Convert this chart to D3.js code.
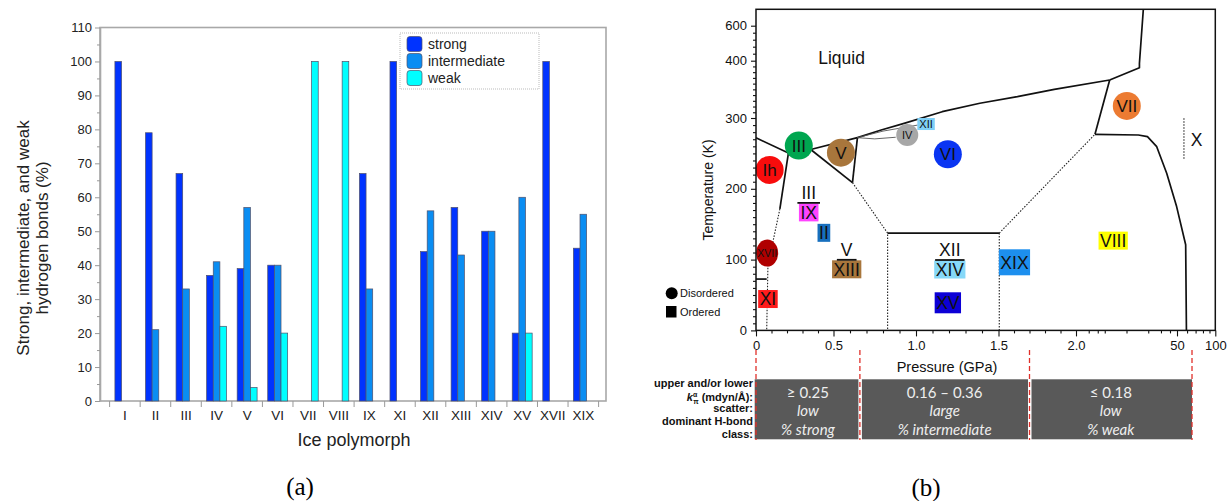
<!DOCTYPE html>
<html>
<head>
<meta charset="utf-8">
<script src="https://cdn.jsdelivr.net/npm/d3@7"></script>
<style>
  body { margin: 0; background: #fff; }
  svg text { font-family: "Liberation Sans", Arial, sans-serif; }
</style>
</head>
<body>
<svg id="fig" width="1228" height="501"></svg>
<script>
// ---- panel (a) data: share of H-bond classes per ice polymorph (%)
const polymorphs = ["I", "II", "III", "IV", "V", "VI", "VII", "VIII", "IX", "XI", "XII", "XIII", "XIV", "XV", "XVII", "XIX"];
const strong =       [100, 79, 67, 37, 39, 40,   0,   0, 67, 100, 44, 57, 50, 20, 100, 45];
const intermediate = [  0, 21, 33, 41, 57, 40,   0,   0, 33,   0, 56, 43, 50, 60,   0, 55];
const weak =         [  0,  0,  0, 22,  4, 20, 100, 100,  0,   0,  0,  0,  0, 20,   0,  0];
const bondClasses = ["strong", "intermediate", "weak"];
const pctTicks = [0, 10, 20, 30, 40, 50, 60, 70, 80, 90, 100, 110];
const pctMinor = [5, 15, 25, 35, 45, 55, 65, 75, 85, 95, 105];

// ---- panel (b) data: phase diagram (pressure GPa, temperature K)
const tempTicks = [0, 100, 200, 300, 400, 600];
const tempMinor = [10, 20, 30, 40, 50, 60, 70, 80, 90, 110, 120, 130, 140, 150, 160, 170, 180, 190,
  210, 220, 230, 240, 250, 260, 270, 280, 290, 310, 320, 330, 340, 350, 360, 370, 380, 390, 440, 480, 520, 560];
const pressLinTicks = [0, 0.5, 1.0, 1.5, 2.0];
const pressLogTicks = [50, 100];
const pressLinMinor = [0.1, 0.2, 0.3, 0.4, 0.6, 0.7, 0.8, 0.9, 1.1, 1.2, 1.3, 1.4, 1.6, 1.7, 1.8, 1.9];
const pressLogMinor = [3, 4, 5, 10, 20, 30, 40, 60, 70, 80, 90];

const solidBoundaries = [
  [[0, 272], [0.209, 250.5]],
  [[0.209, 250.5], [0.154, 171.6]],
  [[0.209, 250.5], [0.353, 255.5], [0.645, 272.2]],
  [[0.645, 272.2], [0.789, 283], [0.928, 292.5], [1.159, 311], [1.387, 325.7], [1.622, 337.2], [1.86, 350.1], [5.85, 366.3]],
  [[0.353, 255.5], [0.615, 208.7]],
  [[0.645, 272.2], [0.615, 208.7]],
  [[5.85, 366.3], [15.1, 387.8], [15.1, 395.5], [17.1, 690]],
  [[5.85, 366.3], [3.66, 277]],
  [[3.66, 277], [14.6, 276], [19.5, 273.6], [26.2, 259.5], [36, 222], [49.4, 174.9], [58.5, 120.9], [59.3, 0]],
  [[0, 72.5], [0.069, 72.5]],
  [[0.828, 137.4], [1.505, 137.4]]
];
const thinBoundaries = [
  [[0.645, 272.2], [0.75, 270.5], [0.877, 272.8]],
  [[0.645, 272.2], [0.8, 281.5], [1.01, 290]]
];
const dottedBoundaries = [
  [[0.154, 171.6], [0.077, 92], [0.069, 0]],
  [[0.615, 208.7], [0.828, 137.4], [0.828, 0]],
  [[1.505, 137.4], [1.505, 0]],
  [[1.505, 137.4], [3.66, 277]],
  [[56.7, 299.6], [56.7, 240.8]]
];

const disorderedPhases = [
  { name: "Ih", p: 0.088, t: 226.6 },
  { name: "III", p: 0.276, t: 261 },
  { name: "V", p: 0.545, t: 251 },
  { name: "IV", p: 0.947, t: 276 },
  { name: "VI", p: 1.193, t: 248.8 },
  { name: "VII", p: 10.1, t: 321 },
  { name: "XVII", p: 0.072, t: 109.2 }
];
const orderedPhases = [
  { name: "XII", p: 1.061, t: 291.5 },
  { name: "IX", p: 0.34, t: 166.7, over: "III" },
  { name: "II", p: 0.438, t: 137.8 },
  { name: "XIII", p: 0.58, t: 86.3, over: "V" },
  { name: "XI", p: 0.077, t: 44.3 },
  { name: "XIV", p: 1.205, t: 86, over: "XII" },
  { name: "XV", p: 1.193, t: 39 },
  { name: "XIX", p: 1.603, t: 96.2 },
  { name: "VIII", p: 6.54, t: 126.8 }
];
const plainLabels = [
  { name: "Liquid", p: 0.549, t: 419 },
  { name: "X", p: 71.4, t: 269 }
];

const regionEdges = [0, 0.66, 1.7, 65.6];
const regionK = ["\u2265 0.25", "0.16 \u2013 0.36", "\u2264 0.18"];
const regionScatter = ["low", "large", "low"];
const regionClass = ["% strong", "% intermediate", "% weak"];

// colours of the phase markers
const phaseColor = {
  Ih: "#f80c0c", III: "#00a650", V: "#a8763c", IV: "#a7a7a7", VI: "#0a35f2", VII: "#ec7b32",
  XVII: "#b00000", XII: "#7fd0f7", IX: "#ff44ff", II: "#176fbe", XIII: "#a8763c", XI: "#ff1c1c",
  XIV: "#86d8f8", XV: "#0c00d6", XIX: "#1d8fee", VIII: "#ffff00"
};

const svg = d3.select("#fig");

// ================= panel (a) =================
const xBand = d3.scaleBand().domain(polymorphs).range([109.6, 598.6]);
const xSub = d3.scaleBand().domain(bondClasses).range([0, xBand.bandwidth()]).paddingOuter(0.8);
const yPct = d3.scaleLinear().domain([0, 110]).range([401, 27.5]);
const bondColor = d3.scaleOrdinal().domain(bondClasses).range(["#0033ff", "#0a8df2", "#00ffff"]);

const ga = svg.append("g");

ga.append("rect")
  .attr("x", 100).attr("y", yPct(110))
  .attr("width", 506).attr("height", yPct(0) - yPct(110))
  .attr("fill", "none").attr("stroke", "#a8a8a8").attr("stroke-width", 1.6);

const rows = polymorphs.map((p, i) => ({ p, values: [strong[i], intermediate[i], weak[i]] }));

ga.selectAll("g.grp")
  .data(rows)
  .join("g")
  .attr("class", "grp")
  .attr("transform", d => `translate(${xBand(d.p)},0)`)
  .selectAll("rect")
  .data(d => bondClasses.map((c, j) => ({ c, v: d.values[j] })))
  .join("rect")
  .attr("x", d => xSub(d.c))
  .attr("width", xSub.bandwidth())
  .attr("y", d => yPct(d.v))
  .attr("height", d => yPct(0) - yPct(d.v))
  .attr("fill", d => bondColor(d.c))
  .attr("stroke", "#50506a")
  .attr("stroke-width", 0.7);

const yAxisA = ga.append("g").attr("transform", "translate(100,0)")
  .call(d3.axisLeft(yPct).tickValues(pctTicks).tickSize(5).tickSizeOuter(0).tickPadding(3));
const yMinorA = ga.append("g").attr("transform", "translate(100,0)")
  .call(d3.axisLeft(yPct).tickValues(pctMinor).tickSize(3).tickFormat(""));
yMinorA.select(".domain").remove();
yAxisA.select(".domain").attr("stroke", "#a8a8a8").attr("stroke-width", 1.6);
ga.selectAll(".tick line").attr("stroke", "#999");
yAxisA.selectAll("text").attr("font-size", 13).attr("fill", "#222");

const xAxisA = ga.append("g").attr("transform", `translate(0,${yPct(0)})`)
  .call(d3.axisBottom(xBand).tickSize(0).tickPadding(9));
xAxisA.select(".domain").remove();
xAxisA.selectAll("text").attr("font-size", 13.5).attr("fill", "#222");

ga.selectAll("line.sep")
  .data(d3.range(polymorphs.length + 1))
  .join("line")
  .attr("class", "sep")
  .attr("x1", i => xBand.range()[0] + i * xBand.step())
  .attr("x2", i => xBand.range()[0] + i * xBand.step())
  .attr("y1", yPct(0)).attr("y2", yPct(0) + 6)
  .attr("stroke", "#999");

ga.append("text")
  .attr("transform", "translate(29,238) rotate(-90)")
  .attr("text-anchor", "middle").attr("font-size", 17).attr("fill", "#222")
  .text("Strong, intermediate, and weak");
ga.append("text")
  .attr("transform", "translate(48,238) rotate(-90)")
  .attr("text-anchor", "middle").attr("font-size", 17).attr("fill", "#222")
  .text("hydrogen bonds (%)");
ga.append("text")
  .attr("x", (xBand.range()[0] + xBand.range()[1]) / 2).attr("y", 446)
  .attr("text-anchor", "middle").attr("font-size", 18).attr("fill", "#222")
  .text("Ice polymorph");

// legend
const legA = ga.append("g");
legA.append("rect")
  .attr("x", 400).attr("y", 33).attr("width", 139).attr("height", 56)
  .attr("fill", "#fff").attr("stroke", "#bbb").attr("stroke-dasharray", "1,1");
const legItems = legA.selectAll("g.li").data(bondClasses).join("g")
  .attr("transform", (d, i) => `translate(407,${44 + i * 17})`);
legItems.append("rect")
  .attr("x", 0).attr("y", -7.5).attr("width", 15).attr("height", 15).attr("rx", 3)
  .attr("fill", d => bondColor(d)).attr("stroke", "#50506a").attr("stroke-width", 0.7);
legItems.append("text")
  .attr("x", 21).attr("dy", "0.35em").attr("font-size", 14).attr("fill", "#222")
  .text(d => d);

ga.append("text")
  .attr("x", 300).attr("y", 495).attr("text-anchor", "middle")
  .attr("font-size", 25).style("font-family", "'Liberation Serif', 'DejaVu Serif', serif")
  .text("(a)");

// ================= panel (b) =================
const xLin = d3.scaleLinear().domain([0, 0.5, 1, 1.5, 2]).range([756, 833.5, 916, 998.5, 1076]);
const xLog = d3.scaleLog().domain([2, 50, 100]).range([1076, 1177, 1215.3]);
const xP = p => (p <= 2 ? xLin(p) : xLog(p));
const yT = d3.scaleLinear().domain([0, 300, 400, 600, 690]).range([330.4, 118, 60.7, 25.7, 9.3]);

const gb = svg.append("g");

const line = d3.line().x(d => xP(d[0])).y(d => yT(d[1]));

gb.selectAll("path.solid").data(solidBoundaries).join("path")
  .attr("class", "solid").attr("d", line)
  .attr("fill", "none").attr("stroke", "#111").attr("stroke-width", 1.7).attr("stroke-linejoin", "round");
gb.selectAll("path.thin").data(thinBoundaries).join("path")
  .attr("class", "thin").attr("d", line)
  .attr("fill", "none").attr("stroke", "#555").attr("stroke-width", 0.9);
gb.selectAll("path.dotted").data(dottedBoundaries).join("path")
  .attr("class", "dotted").attr("d", line)
  .attr("fill", "none").attr("stroke", "#222").attr("stroke-width", 1.1).attr("stroke-dasharray", "1.5,1.5");

// disordered phases (circles)
const discs = gb.selectAll("g.disc").data(disorderedPhases).join("g")
  .attr("class", "disc")
  .attr("transform", d => `translate(${xP(d.p)},${yT(d.t)})`);
discs.append("ellipse")
  .attr("rx", d => d.name === "IV" ? 11 : d.name === "XVII" ? 11 : 14)
  .attr("ry", d => d.name === "IV" ? 11 : d.name === "XVII" ? 13.5 : 14)
  .attr("fill", d => phaseColor[d.name]);
discs.append("text")
  .attr("text-anchor", "middle").attr("dy", "0.36em")
  .attr("font-size", d => d.name === "IV" ? 11 : d.name === "XVII" ? 10.5 : 17)
  .attr("fill", "#111")
  .text(d => d.name);

// ordered phases (boxes)
const boxes = gb.selectAll("g.box").data(orderedPhases).join("g")
  .attr("class", "box")
  .attr("transform", d => `translate(${xP(d.p)},${yT(d.t)})`);
boxes.each(function (d) {
  const g = d3.select(this);
  const small = d.name === "XII";
  const fs = small ? 11 : 17.5;
  const h = small ? 12 : d.name === "XIX" ? 26 : d.name === "XV" ? 21 : 18;
  const t = g.append("text")
    .attr("text-anchor", "middle").attr("dy", "0.36em")
    .attr("font-size", fs).attr("fill", "#111").text(d.name);
  const w = t.node().getComputedTextLength() + (small ? 4 : 3);
  g.insert("rect", "text")
    .attr("x", -w / 2).attr("y", -h / 2).attr("width", w).attr("height", h)
    .attr("fill", phaseColor[d.name]);
  if (d.over) {
    const ot = g.append("text")
      .attr("text-anchor", "middle").attr("y", -20).attr("dy", "0.36em")
      .attr("font-size", 17.5).attr("fill", "#111").text(d.over);
    const bw = ot.node().getComputedTextLength() + 8;
    g.append("line")
      .attr("x1", -bw / 2).attr("x2", bw / 2)
      .attr("y1", -h / 2 - 0.5).attr("y2", -h / 2 - 0.5)
      .attr("stroke", "#111").attr("stroke-width", 1.8);
  }
});

gb.selectAll("text.plain").data(plainLabels).join("text")
  .attr("class", "plain")
  .attr("x", d => xP(d.p)).attr("y", d => yT(d.t)).attr("dy", "0.36em")
  .attr("text-anchor", "middle").attr("font-size", 17.5).attr("fill", "#111")
  .text(d => d.name);

// frame
gb.append("rect")
  .attr("x", xP(0)).attr("y", yT(690))
  .attr("width", xP(100) - xP(0)).attr("height", yT(0) - yT(690))
  .attr("fill", "none").attr("stroke", "#111").attr("stroke-width", 1.5);

// axes
const fmtP = d => (d === 0 ? "0" : d >= 50 ? String(d) : d3.format(".1f")(d));
const xAx1 = gb.append("g").attr("transform", `translate(0,${yT(0)})`)
  .call(d3.axisBottom(xLin).tickValues(pressLinTicks).tickFormat(fmtP).tickSize(6).tickPadding(4));
const xAx2 = gb.append("g").attr("transform", `translate(0,${yT(0)})`)
  .call(d3.axisBottom(xLog).tickValues(pressLogTicks).tickFormat(fmtP).tickSize(6).tickPadding(4));
const xAx3 = gb.append("g").attr("transform", `translate(0,${yT(0)})`)
  .call(d3.axisBottom(xLin).tickValues(pressLinMinor).tickFormat("").tickSize(3));
const xAx4 = gb.append("g").attr("transform", `translate(0,${yT(0)})`)
  .call(d3.axisBottom(xLog).tickValues(pressLogMinor).tickFormat("").tickSize(3));
const yAx1 = gb.append("g").attr("transform", `translate(${xP(0)},0)`)
  .call(d3.axisLeft(yT).tickValues(tempTicks).tickSize(5).tickPadding(4));
const yAx2 = gb.append("g").attr("transform", `translate(${xP(0)},0)`)
  .call(d3.axisLeft(yT).tickValues(tempMinor).tickFormat("").tickSize(3));
[xAx1, xAx2, xAx3, xAx4, yAx1, yAx2].forEach(ax => {
  ax.select(".domain").remove();
  ax.selectAll(".tick line").attr("stroke", "#111").attr("stroke-width", 1.1);
  ax.selectAll("text").attr("font-size", 13).attr("fill", "#111");
});

gb.append("text")
  .attr("transform", "translate(713,190) rotate(-90)")
  .attr("text-anchor", "middle").attr("font-size", 14).attr("fill", "#111")
  .text("Temperature (K)");
gb.append("text")
  .attr("x", 947).attr("y", 372).attr("text-anchor", "middle")
  .attr("font-size", 14.5).attr("fill", "#111")
  .text("Pressure (GPa)");

// disordered / ordered key
gb.append("circle").attr("cx", 671.7).attr("cy", 293.3).attr("r", 6).attr("fill", "#000");
gb.append("text").attr("x", 680).attr("y", 293.3).attr("dy", "0.36em")
  .attr("font-size", 11).attr("fill", "#111").text("Disordered");
gb.append("rect").attr("x", 666).attr("y", 306).attr("width", 10.5).attr("height", 11.5).attr("fill", "#000");
gb.append("text").attr("x", 680).attr("y", 311.7).attr("dy", "0.36em")
  .attr("font-size", 11).attr("fill", "#111").text("Ordered");

// regime table below the diagram
const regions = regionK.map((k, i) => ({ i, k, s: regionScatter[i], c: regionClass[i], p0: regionEdges[i], p1: regionEdges[i + 1] }));
const reg = gb.selectAll("g.reg").data(regions).join("g").attr("class", "reg");
reg.append("rect")
  .attr("x", d => xP(d.p0) + (d.i === 0 ? -1.3 : 2))
  .attr("width", d => xP(d.p1) - xP(d.p0) - (d.i === 0 ? -1.3 : 2) - (d.i < 2 ? 1.5 : 0))
  .attr("y", 379.3).attr("height", 60)
  .attr("fill", "#595959");
const regText = (sel, key, y, italic) => sel.append("text")
  .attr("x", d => (xP(d.p0) + xP(d.p1)) / 2).attr("y", y).attr("dy", "0.36em")
  .attr("text-anchor", "middle").attr("font-size", 15).attr("fill", "#eee")
  .style("font-family", "Lato, 'Open Sans', sans-serif")
  .style("font-style", italic ? "italic" : "normal")
  .text(d => d[key]);
regText(reg, "k", 393, false);
regText(reg, "s", 411, true);
regText(reg, "c", 430, true);

gb.selectAll("line.edge").data(regionEdges).join("line")
  .attr("class", "edge")
  .attr("x1", d => xP(d)).attr("x2", d => xP(d))
  .attr("y1", 350).attr("y2", 440)
  .attr("stroke", "#e0302a").attr("stroke-width", 1.3).attr("stroke-dasharray", "5,3");

const rowLab = gb.append("g").attr("font-size", 11).attr("font-weight", "bold").attr("fill", "#111").attr("text-anchor", "end");
rowLab.append("text").attr("x", 753).attr("y", 382.7).attr("dy", "0.36em").text("upper and/or lower");
const kLab = rowLab.append("text").attr("x", 753).attr("y", 396.7).attr("dy", "0.36em");
kLab.append("tspan").attr("font-style", "italic").text("k");
kLab.append("tspan").attr("font-size", 7).attr("dy", -4).text("\u03b1");
kLab.append("tspan").attr("font-size", 7).attr("dx", -4).attr("dy", 7).text("\u03c0");
kLab.append("tspan").attr("dy", -3).text(" (mdyn/\u00c5):");
rowLab.append("text").attr("x", 753).attr("y", 407.7).attr("dy", "0.36em").text("scatter:");
rowLab.append("text").attr("x", 753).attr("y", 420.7).attr("dy", "0.36em").text("dominant H-bond");
rowLab.append("text").attr("x", 753).attr("y", 434).attr("dy", "0.36em").text("class:");

gb.append("text")
  .attr("x", 926).attr("y", 496).attr("text-anchor", "middle")
  .attr("font-size", 25).style("font-family", "'Liberation Serif', 'DejaVu Serif', serif")
  .text("(b)");
</script>
</body>
</html>
